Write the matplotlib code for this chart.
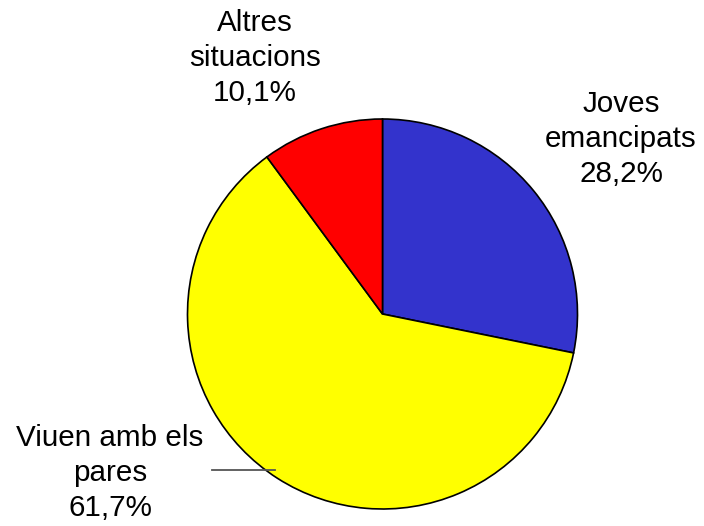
import matplotlib.pyplot as plt

plt.rcParams["font.family"] = ["Liberation Sans", "DejaVu Sans"]

# Dades
categories = ["Joves\nemancipats", "Viuen amb els\npares", "Altres\nsituacions"]
values = [28.2, 61.7, 10.1]
colors = ["#3333CC", "#FFFF00", "#FF0000"]

fig = plt.figure(figsize=(7.04, 5.26), dpi=100)
ax = fig.add_axes([0, 0, 1, 1])

ax.pie(
    values,
    colors=colors,
    startangle=90,
    counterclock=False,
    center=(382.5, 212),
    radius=195,
    frame=True,
    wedgeprops={"edgecolor": "black", "linewidth": 1.2},
)

# posicions de les etiquetes (en píxels)
label_pos = [(621, 387), (110, 53), (255, 468)]
for cat, val, (x, y) in zip(categories, values, label_pos):
    txt = cat + "\n" + f"{val:.1f}".replace(".", ",") + "%"
    ax.text(x, y, txt, ha="center", va="center", fontsize=21.3, linespacing=1.33)

# línia guia
ax.plot([212, 275], [56, 56], color="#555555", linewidth=1.3)

ax.set_xlim(0, 704)
ax.set_ylim(0, 526)
ax.set_aspect("equal")
ax.axis("off")

fig.savefig("out.png", dpi=100)
